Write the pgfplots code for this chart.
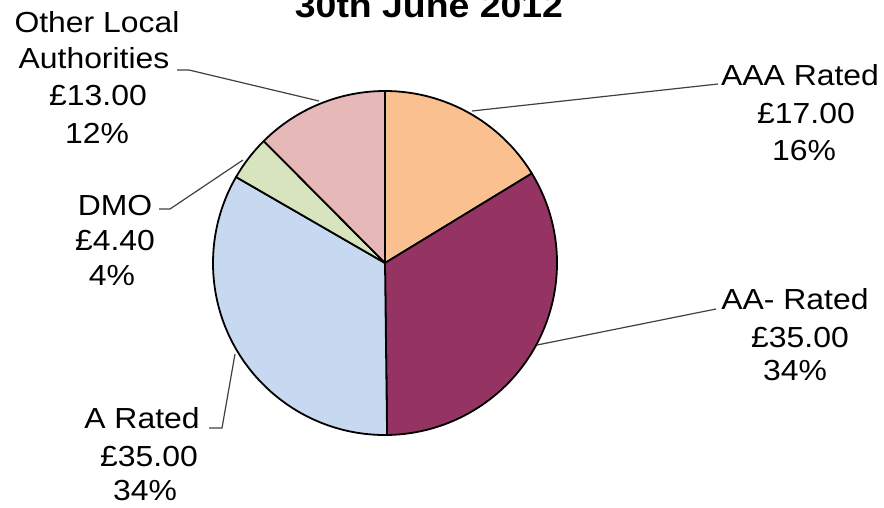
\documentclass[border=0pt]{standalone}
\usepackage{pgfplots}
\pgfplotsset{compat=1.18}
\usepackage{fontspec}
\setmainfont{Liberation Sans}[FakeStretch=1.1]
\definecolor{cAAA}{HTML}{FAC090}
\definecolor{cAAm}{HTML}{953463}
\definecolor{cA}{HTML}{C6D9F1}
\definecolor{cDMO}{HTML}{D7E4BD}
\definecolor{cOLA}{HTML}{E6B9B8}
\begin{document}
\begin{tikzpicture}
% values (GBP m): AAA, AA-, A, DMO, Other LA
\pgfmathsetmacro{\vA}{17}
\pgfmathsetmacro{\vB}{35}
\pgfmathsetmacro{\vC}{35}
\pgfmathsetmacro{\vD}{4.4}
\pgfmathsetmacro{\vE}{13}
\pgfmathsetmacro{\tot}{\vA+\vB+\vC+\vD+\vE}
\pgfmathsetmacro{\aA}{90}
\pgfmathsetmacro{\aB}{\aA-360*\vA/\tot}
\pgfmathsetmacro{\aC}{\aB-360*\vB/\tot}
\pgfmathsetmacro{\aD}{\aC-360*\vC/\tot}
\pgfmathsetmacro{\aE}{\aD-360*\vD/\tot}
\pgfmathsetmacro{\aF}{\aE-360*\vE/\tot}
\def\R{172}
\begin{axis}[at={(0,0)}, anchor=south west, scale only axis,
  width=884pt, height=507pt, xmin=0, xmax=884, ymin=0, ymax=507,
  y dir=reverse, hide axis, clip=false]
\newcommand\sector[3]{%
  \filldraw[fill=#3, draw=black, line width=1.8pt, line join=round]
    (axis cs:385,263) -- (axis cs:{385+\R*cos(#1)},{263-\R*sin(#1)})
    arc[start angle=#1, end angle=#2, radius=\R pt] -- cycle;}
\sector{\aA}{\aB}{cAAA}
\sector{\aB}{\aC}{cAAm}
\sector{\aC}{\aD}{cA}
\sector{\aD}{\aE}{cDMO}
\sector{\aE}{\aF}{cOLA}
% leader lines
\draw[line width=1.2pt, black!75] (axis cs:177,70) -- (axis cs:189,70) -- (axis cs:319,101);
\draw[line width=1.2pt, black!75] (axis cs:472,111) -- (axis cs:718,84);
\draw[line width=1.2pt, black!75] (axis cs:537,345) -- (axis cs:716,309);
\draw[line width=1.2pt, black!75] (axis cs:235,354) -- (axis cs:222,428) -- (axis cs:209,428);
\draw[line width=1.2pt, black!75] (axis cs:159,209) -- (axis cs:170,209) -- (axis cs:243,160);
% labels
\tikzset{lbl/.style={anchor=base, inner sep=0pt, font=\fontsize{29}{34}\selectfont}}
\node[anchor=base, inner sep=0pt, font=\fontsize{34}{40}\selectfont\bfseries] at (axis cs:429,17.5) {30th June 2012};
\node[lbl] at (axis cs:97,32) {Other Local};
\node[lbl] at (axis cs:94,68) {Authorities};
\node[lbl] at (axis cs:98,105) {£13.00};
\node[lbl] at (axis cs:97,143) {12\%};
\node[lbl] at (axis cs:800,85) {AAA Rated};
\node[lbl] at (axis cs:806,123) {£17.00};
\node[lbl] at (axis cs:804,160) {16\%};
\node[lbl] at (axis cs:795,309) {AA- Rated};
\node[lbl] at (axis cs:800,347) {£35.00};
\node[lbl] at (axis cs:795,380) {34\%};
\node[lbl] at (axis cs:115,215) {DMO};
\node[lbl] at (axis cs:115,250) {£4.40};
\node[lbl] at (axis cs:112,285) {4\%};
\node[lbl] at (axis cs:142,428) {A Rated};
\node[lbl] at (axis cs:149,466) {£35.00};
\node[lbl] at (axis cs:145,500) {34\%};
\end{axis}
\pgfresetboundingbox
\useasboundingbox (0,0) rectangle (884pt,507pt);
\end{tikzpicture}
\end{document}
